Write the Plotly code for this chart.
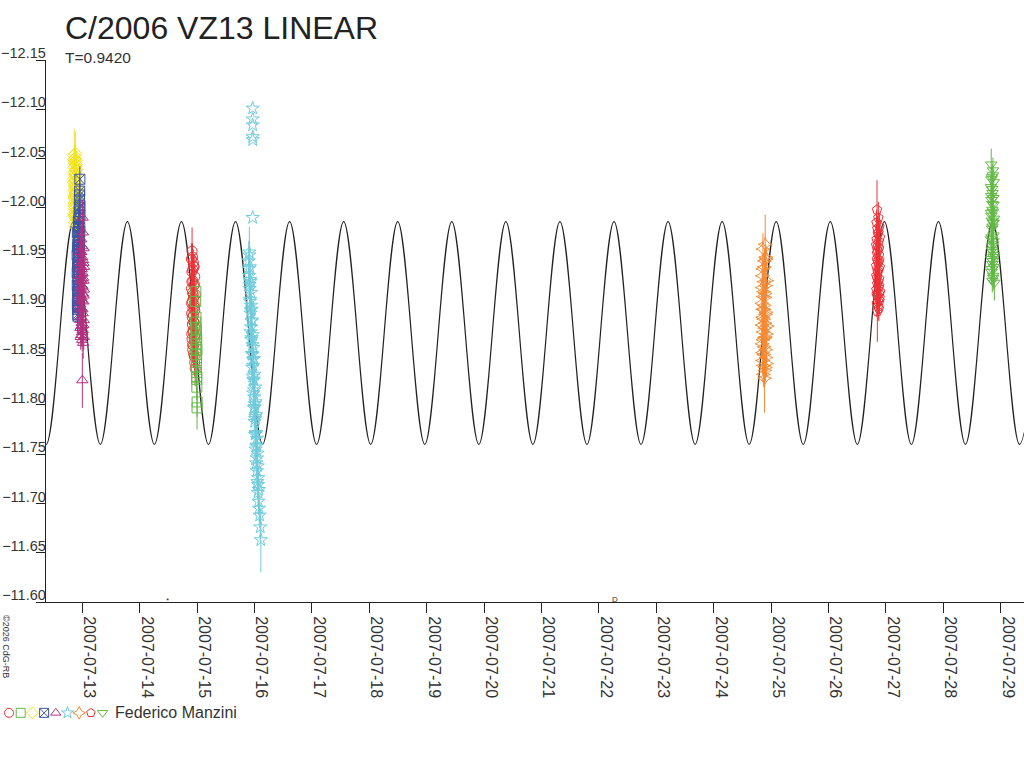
import pandas as pd
import plotly.graph_objects as go

base = pd.Timestamp("2007-07-13")

# model light curve: extrema (days after 2007-07-13, magnitude)
model_days = [-1.099, -0.628, -0.157, 0.314, 0.785, 1.256, 1.727, 2.198, 2.669, 3.140,
              3.611, 4.082, 4.553, 5.024, 5.495, 5.966, 6.437, 6.908, 7.379, 7.850,
              8.321, 8.792, 9.263, 9.734, 10.205, 10.676, 11.147, 11.618, 12.089, 12.560,
              13.031, 13.502, 13.973, 14.444, 14.915, 15.386, 15.857, 16.328, 16.799]
model_mag = [-11.986, -11.760, -11.986, -11.760, -11.986, -11.760, -11.986, -11.760, -11.986, -11.760,
             -11.986, -11.760, -11.986, -11.760, -11.986, -11.760, -11.986, -11.760, -11.986, -11.760,
             -11.986, -11.760, -11.986, -11.760, -11.986, -11.760, -11.986, -11.760, -11.986, -11.760,
             -11.986, -11.760, -11.986, -11.760, -11.986, -11.760, -11.986, -11.760, -11.986]

# observations (days after 2007-07-13, magnitude, error), one set per session
rci_d = [1.900, 1.903, 1.906, 1.909, 1.912, 1.915, 1.918, 1.921, 1.924, 1.927, 1.930, 1.933,
         1.936, 1.939, 1.942, 1.945, 1.948, 1.951, 1.954, 1.957, 1.960, 1.963, 1.966, 1.969,
         1.901, 1.904, 1.908, 1.911, 1.914, 1.917, 1.920, 1.923, 1.926, 1.929, 1.932, 1.935,
         1.938, 1.941, 1.944, 1.947, 1.950, 1.953, 1.956, 1.959]
rci_m = [-11.948, -11.903, -11.872, -11.925, -11.956, -11.889, -11.914, -11.861, -11.937, -11.898, -11.876, -11.945,
         -11.908, -11.852, -11.921, -11.884, -11.940, -11.866, -11.899, -11.843, -11.930, -11.878, -11.837, -11.912,
         -11.918, -11.893, -11.935, -11.867, -11.905, -11.882, -11.950, -11.856, -11.926, -11.874, -11.912, -11.891,
         -11.860, -11.941, -11.884, -11.902, -11.849, -11.922, -11.870, -11.896]
rci_e = [0.016, 0.012, 0.014, 0.013, 0.024, 0.012, 0.015, 0.013, 0.014, 0.012, 0.016, 0.013,
         0.012, 0.014, 0.015, 0.012, 0.013, 0.016, 0.012, 0.014, 0.013, 0.015, 0.018, 0.012,
         0.013, 0.012, 0.014, 0.012, 0.013, 0.012, 0.014, 0.013, 0.012, 0.013, 0.014, 0.012,
         0.013, 0.012, 0.014, 0.013, 0.012, 0.013, 0.014, 0.012]

gsq_d = [1.975, 1.977, 1.979, 1.981, 1.983, 1.985, 1.987, 1.989, 1.991, 1.993, 1.995, 1.997, 1.999, 2.000,
         1.976, 1.980, 1.984, 1.988, 1.992, 1.996, 1.978, 1.990]
gsq_m = [-11.905, -11.872, -11.851, -11.889, -11.862, -11.838, -11.878, -11.845, -11.826, -11.866, -11.818, -11.856, -11.797, -11.803,
         -11.884, -11.858, -11.876, -11.833, -11.851, -11.829, -11.915, -11.869]
gsq_e = [0.012, 0.013, 0.012, 0.014, 0.012, 0.013, 0.012, 0.013, 0.014, 0.012, 0.013, 0.012, 0.022, 0.015,
         0.012, 0.013, 0.012, 0.013, 0.012, 0.013, 0.012, 0.013]

yel_d = [-0.145, -0.142, -0.140, -0.138, -0.136, -0.134, -0.132, -0.131, -0.129, -0.127, -0.126, -0.124, -0.122, -0.121,
         -0.119, -0.118, -0.116, -0.114, -0.113, -0.111, -0.110, -0.108, -0.107, -0.105, -0.104, -0.102, -0.101, -0.100,
         -0.144, -0.141, -0.139, -0.137, -0.135, -0.133, -0.130, -0.128, -0.125, -0.123, -0.120, -0.117, -0.115, -0.112,
         -0.109, -0.106, -0.103, -0.101, -0.139, -0.121]
yel_m = [-12.041, -12.018, -12.053, -12.005, -12.030, -11.992, -12.047, -12.012, -12.036, -11.985, -12.024, -12.042, -12.001, -12.028,
         -11.981, -12.015, -12.038, -11.996, -12.021, -12.009, -12.044, -11.989, -12.032, -12.003, -12.019, -11.984, -12.011, -11.998,
         -12.026, -12.049, -11.994, -12.035, -12.010, -12.050, -12.022, -11.999, -12.045, -12.014, -12.033, -11.991, -12.027, -12.048,
         -12.006, -12.039, -11.993, -12.017, -12.002, -12.055]
yel_e = [0.014, 0.012, 0.027, 0.013, 0.015, 0.012, 0.016, 0.012, 0.014, 0.013, 0.012, 0.015, 0.012, 0.013,
         0.012, 0.014, 0.013, 0.012, 0.015, 0.012, 0.013, 0.012, 0.014, 0.012, 0.013, 0.016, 0.012, 0.013,
         0.013, 0.012, 0.014, 0.012, 0.013, 0.015, 0.012, 0.013, 0.012, 0.014, 0.013, 0.012, 0.014, 0.013,
         0.012, 0.013, 0.012, 0.014, 0.013, 0.022]

blu_d = [-0.090, -0.088, -0.086, -0.084, -0.083, -0.081, -0.079, -0.077, -0.076, -0.074, -0.072, -0.070, -0.069, -0.067, -0.065,
         -0.063, -0.062, -0.060, -0.058, -0.056, -0.055, -0.053, -0.051, -0.049, -0.048, -0.046, -0.044, -0.043, -0.041, -0.040,
         -0.089, -0.087, -0.085, -0.082, -0.080, -0.078, -0.075, -0.073, -0.071, -0.068, -0.066, -0.064, -0.061, -0.059, -0.057,
         -0.054, -0.052, -0.050, -0.047, -0.045]
blu_m = [-11.952, -11.921, -11.975, -11.897, -11.940, -11.906, -11.963, -11.930, -11.890, -11.948, -11.915, -11.986, -11.925, -11.958, -11.900,
         -11.937, -11.970, -11.911, -11.944, -11.996, -11.918, -11.955, -12.008, -11.933, -11.967, -12.017, -11.980, -12.029, -11.992, -12.002,
         -11.934, -11.903, -11.960, -11.915, -11.944, -11.892, -11.927, -11.972, -11.908, -11.950, -11.981, -11.921, -11.962, -11.899, -11.989,
         -11.941, -12.000, -11.958, -12.013, -11.976]
blu_e = [0.012, 0.013, 0.012, 0.022, 0.013, 0.012, 0.014, 0.012, 0.018, 0.013, 0.012, 0.014, 0.012, 0.013, 0.012,
         0.013, 0.012, 0.014, 0.012, 0.013, 0.012, 0.013, 0.014, 0.012, 0.013, 0.014, 0.012, 0.013, 0.012, 0.012,
         0.012, 0.013, 0.012, 0.014, 0.012, 0.013, 0.012, 0.013, 0.012, 0.014, 0.012, 0.013, 0.012, 0.013, 0.012,
         0.014, 0.012, 0.013, 0.012, 0.013]

mag_d = [-0.040, -0.037, -0.035, -0.032, -0.030, -0.027, -0.025, -0.022, -0.020, -0.017, -0.015, -0.012, -0.010, -0.007, -0.005,
         -0.002, 0.000, 0.002, 0.005, 0.007, 0.010, 0.012, 0.015, 0.017, 0.020, 0.022, 0.025, 0.027, 0.030, 0.000,
         -0.038, -0.034, -0.031, -0.028, -0.024, -0.021, -0.018, -0.014, -0.011, -0.008, -0.004, -0.001, 0.003, 0.006, 0.009,
         0.013, 0.016, 0.019, 0.023, 0.026]
mag_m = [-11.931, -11.902, -11.955, -11.878, -11.918, -11.944, -11.889, -11.927, -11.968, -11.871, -11.909, -11.938, -11.883, -11.921, -11.950,
         -11.866, -11.897, -11.934, -11.990, -11.876, -11.913, -11.947, -11.863, -11.905, -11.926, -11.959, -11.886, -11.917, -11.940, -11.825,
         -11.912, -11.886, -11.941, -11.869, -11.926, -11.898, -11.955, -11.880, -11.933, -11.906, -11.961, -11.874, -11.920, -11.893, -11.975,
         -11.929, -11.881, -11.944, -11.911, -11.869]
mag_e = [0.013, 0.012, 0.014, 0.012, 0.013, 0.012, 0.013, 0.012, 0.014, 0.012, 0.013, 0.012, 0.013, 0.012, 0.013,
         0.012, 0.013, 0.012, 0.018, 0.012, 0.013, 0.012, 0.016, 0.012, 0.013, 0.012, 0.013, 0.012, 0.013, 0.028,
         0.012, 0.013, 0.012, 0.013, 0.012, 0.013, 0.012, 0.013, 0.012, 0.013, 0.012, 0.013, 0.012, 0.013, 0.012,
         0.013, 0.012, 0.013, 0.012, 0.013]

cya_d = [2.900, 2.905, 2.910, 2.915, 2.920, 2.925, 2.930, 2.935, 2.940, 2.945, 2.950, 2.955, 2.960, 2.965,
         2.970, 2.975, 2.980, 2.985, 2.990, 2.995, 3.000, 3.005, 3.010, 3.015, 3.020, 3.025, 3.030, 3.035,
         3.040, 3.045, 3.050, 3.055, 3.060, 3.065, 3.070, 3.075, 3.080, 3.090, 3.100, 3.110,
         2.902, 2.908, 2.913, 2.918, 2.923, 2.928, 2.933, 2.938, 2.943, 2.948, 2.953, 2.958, 2.963, 2.968, 2.973,
         2.978, 2.983, 2.988, 2.993, 2.998, 3.003, 3.008, 3.013, 3.018, 3.023, 3.028, 3.033, 3.043, 3.053, 3.063,
         2.968, 2.968, 2.968, 2.968, 2.968, 2.968]
cya_m = [-11.946, -11.931, -11.952, -11.918, -11.905, -11.927, -11.893, -11.874, -11.901, -11.866, -11.885, -11.852, -11.838, -11.861,
         -11.829, -11.846, -11.812, -11.825, -11.797, -11.808, -11.783, -11.801, -11.770, -11.788, -11.755, -11.772, -11.741, -11.759,
         -11.733, -11.746, -11.722, -11.738, -11.711, -11.726, -11.702, -11.714, -11.695, -11.688, -11.676, -11.663,
         -11.938, -11.955, -11.922, -11.940, -11.907, -11.925, -11.896, -11.914, -11.879, -11.897, -11.868, -11.886, -11.851, -11.871, -11.840,
         -11.858, -11.826, -11.847, -11.815, -11.831, -11.798, -11.818, -11.786, -11.803, -11.771, -11.790, -11.758, -11.766, -11.751, -11.719,
         -12.101, -12.090, -12.084, -12.072, -12.069, -11.990]
cya_e = [0.020, 0.016, 0.029, 0.014, 0.012, 0.015, 0.013, 0.012, 0.014, 0.012, 0.013, 0.012, 0.014, 0.012,
         0.013, 0.012, 0.014, 0.012, 0.013, 0.012, 0.014, 0.012, 0.013, 0.012, 0.014, 0.012, 0.013, 0.012,
         0.014, 0.012, 0.013, 0.012, 0.014, 0.012, 0.013, 0.012, 0.014, 0.013, 0.015, 0.033,
         0.013, 0.012, 0.014, 0.012, 0.013, 0.012, 0.013, 0.012, 0.014, 0.012, 0.013, 0.012, 0.013, 0.012, 0.013,
         0.012, 0.014, 0.012, 0.013, 0.012, 0.013, 0.012, 0.014, 0.012, 0.013, 0.012, 0.013, 0.012, 0.013, 0.012,
         0.000, 0.000, 0.000, 0.000, 0.000, 0.000]

ora_d = [11.840, 11.844, 11.848, 11.851, 11.855, 11.858, 11.862, 11.865, 11.869, 11.872, 11.876, 11.879, 11.883,
         11.886, 11.890, 11.893, 11.897, 11.900, 11.904, 11.907, 11.911, 11.914, 11.918, 11.921, 11.925, 11.930,
         11.842, 11.846, 11.850, 11.853, 11.857, 11.860, 11.864, 11.867, 11.871, 11.874, 11.878, 11.881, 11.885,
         11.888, 11.892, 11.895, 11.899, 11.902, 11.906, 11.909]
ora_m = [-11.903, -11.862, -11.931, -11.845, -11.889, -11.958, -11.874, -11.831, -11.915, -11.851, -11.897, -11.940, -11.868,
         -11.827, -11.909, -11.883, -11.963, -11.838, -11.921, -11.856, -11.894, -11.948, -11.872, -11.842, -11.926, -11.880,
         -11.881, -11.919, -11.853, -11.897, -11.938, -11.866, -11.910, -11.840, -11.887, -11.925, -11.859, -11.901, -11.946,
         -11.878, -11.835, -11.913, -11.869, -11.892, -11.950, -11.848]
ora_e = [0.014, 0.013, 0.015, 0.014, 0.013, 0.016, 0.014, 0.013, 0.015, 0.014, 0.013, 0.015, 0.014,
         0.035, 0.013, 0.014, 0.030, 0.014, 0.013, 0.015, 0.014, 0.013, 0.015, 0.014, 0.013, 0.014,
         0.013, 0.014, 0.013, 0.014, 0.013, 0.014, 0.013, 0.014, 0.013, 0.014, 0.013, 0.014, 0.013,
         0.014, 0.013, 0.014, 0.013, 0.014, 0.013, 0.014]

rpe_d = [13.830, 13.833, 13.836, 13.839, 13.842, 13.845, 13.848, 13.851, 13.854, 13.857, 13.860, 13.863,
         13.866, 13.869, 13.872, 13.875, 13.878, 13.881, 13.884, 13.887, 13.890, 13.893, 13.896, 13.900,
         13.831, 13.834, 13.838, 13.841, 13.844, 13.847, 13.850, 13.853, 13.856, 13.859, 13.862, 13.865,
         13.868, 13.871, 13.874, 13.877, 13.880, 13.883, 13.886, 13.889]
rpe_m = [-11.962, -11.931, -11.985, -11.912, -11.948, -11.998, -11.923, -11.895, -11.957, -11.936, -11.974, -11.905,
         -11.944, -11.990, -11.919, -11.966, -11.898, -11.952, -11.928, -11.981, -11.909, -11.940, -11.970, -11.915,
         -11.941, -11.917, -11.968, -11.903, -11.954, -11.929, -11.979, -11.911, -11.946, -11.934, -11.961, -11.900,
         -11.925, -11.975, -11.938, -11.913, -11.959, -11.921, -11.947, -11.906]
rpe_e = [0.013, 0.014, 0.013, 0.014, 0.013, 0.030, 0.013, 0.031, 0.014, 0.013, 0.014, 0.013,
         0.014, 0.016, 0.013, 0.014, 0.013, 0.014, 0.013, 0.014, 0.013, 0.014, 0.013, 0.014,
         0.013, 0.014, 0.013, 0.014, 0.013, 0.014, 0.013, 0.014, 0.013, 0.014, 0.013, 0.014,
         0.013, 0.014, 0.013, 0.014, 0.013, 0.014, 0.013, 0.014]

gtr_d = [15.830, 15.833, 15.835, 15.838, 15.840, 15.843, 15.845, 15.848, 15.850, 15.853, 15.855, 15.858,
         15.860, 15.863, 15.865, 15.868, 15.870, 15.873, 15.875, 15.878, 15.880, 15.883, 15.886, 15.890,
         15.831, 15.834, 15.836, 15.839, 15.842, 15.844, 15.847, 15.849, 15.852, 15.854, 15.857, 15.859,
         15.862, 15.864, 15.867, 15.869, 15.872, 15.874, 15.877, 15.882]
gtr_m = [-12.021, -11.968, -12.044, -11.992, -11.935, -12.008, -11.957, -12.031, -11.979, -11.926, -11.998, -12.015,
         -11.946, -11.985, -12.038, -11.963, -11.931, -12.003, -11.972, -11.950, -12.026, -11.940, -11.989, -11.924,
         -11.995, -12.012, -11.948, -12.029, -11.970, -11.987, -11.938, -12.019, -11.961, -12.004, -11.943, -11.981,
         -12.033, -11.955, -11.996, -11.929, -12.010, -11.966, -11.985, -11.952]
gtr_e = [0.012, 0.013, 0.016, 0.012, 0.013, 0.012, 0.013, 0.012, 0.013, 0.012, 0.013, 0.012,
         0.013, 0.012, 0.013, 0.012, 0.013, 0.012, 0.013, 0.012, 0.013, 0.012, 0.013, 0.018,
         0.012, 0.013, 0.012, 0.013, 0.012, 0.013, 0.012, 0.013, 0.012, 0.013, 0.012, 0.013,
         0.012, 0.013, 0.012, 0.013, 0.012, 0.013, 0.012, 0.013]

# same order as the symbol strip at the bottom
sessions = [
    (rci_d, rci_m, rci_e, "circle-open", "#ed3237"),
    (gsq_d, gsq_m, gsq_e, "square-open", "#63b946"),
    (yel_d, yel_m, yel_e, "diamond-open", "#f2e31b"),
    (blu_d, blu_m, blu_e, "square-x-open", "#3b55a3"),
    (mag_d, mag_m, mag_e, "triangle-up-open", "#b2307f"),
    (cya_d, cya_m, cya_e, "star-open", "#6fcbdc"),
    (ora_d, ora_m, ora_e, "star-diamond-open", "#f58a35"),
    (rpe_d, rpe_m, rpe_e, "pentagon-open", "#ed3237"),
    (gtr_d, gtr_m, gtr_e, "triangle-down-open", "#63b946"),
]

observer = "Federico Manzini"


def to_dates(days):
    return base + pd.to_timedelta(days, unit="D")


fig = go.Figure()
fig.add_trace(go.Scatter(x=to_dates(model_days), y=model_mag, mode="lines",
                         line=dict(color="#222222", width=1.2, shape="spline", smoothing=1),
                         hoverinfo="skip"))
for d, m, e, sym, col in sessions:
    fig.add_trace(go.Scatter(
        x=to_dates(d), y=m, mode="markers",
        marker=dict(symbol=sym, size=10, color=col, line=dict(width=1, color=col)),
        error_y=dict(type="data", array=e, visible=True, color=col, thickness=1, width=0)))

# symbol strip (legend) on its own hidden axes
fig.add_trace(go.Scatter(
    x=list(range(len(sessions))), y=[0] * len(sessions), mode="markers",
    xaxis="x2", yaxis="y2",
    marker=dict(symbol=[s[3] for s in sessions], size=9, color=[s[4] for s in sessions],
                line=dict(width=1, color=[s[4] for s in sessions]))))

font = "Liberation Sans, Arial, sans-serif"

fig.update_layout(
    width=1024, height=768,
    margin=dict(l=0, r=0, t=0, b=0),
    paper_bgcolor="white", plot_bgcolor="white",
    showlegend=False, hovermode=False,
    font=dict(family=font, color="#222222"),
    xaxis=dict(
        domain=[45.7 / 1024, 1],
        range=[to_dates([-0.638])[0], to_dates([16.406])[0]],
        type="date", dtick=86400000, tick0="2007-07-13", tickformat="%Y-%m-%d",
        tickangle=90, ticks="outside", ticklen=10, tickcolor="#222222",
        ticklabelshift=7,
        tickfont=dict(size=16, color="#333333"),
        showline=True, linecolor="#222222", linewidth=1,
        showgrid=False, zeroline=False, automargin=False),
    yaxis=dict(
        domain=[1 - 602 / 768, 1 - 60 / 768],
        range=[-11.60, -12.15], dtick=0.05, tick0=-12.15, tickformat=".2f",
        ticks="outside", ticklen=9, tickcolor="#222222",
        ticklabelstandoff=-13, ticklabelshift=7,
        tickfont=dict(size=14.5, color="#333333"),
        showline=True, linecolor="#222222", linewidth=1,
        showgrid=False, zeroline=False, automargin=False),
    xaxis2=dict(domain=[0, 0.25], range=[-0.769, 21.11], visible=False, anchor="y2", fixedrange=True),
    yaxis2=dict(domain=[0, 0.1436], range=[-1, 1], visible=False, anchor="x2", fixedrange=True),
    annotations=[
        dict(text="C/2006 VZ13 LINEAR", xref="paper", yref="paper", x=63 / 1024, y=1 - 28 / 768,
             xanchor="left", yanchor="middle", showarrow=False, font=dict(size=32, color="#222222")),
        dict(text="T=0.9420", xref="paper", yref="paper", x=63 / 1024, y=1 - 57 / 768,
             xanchor="left", yanchor="middle", showarrow=False, font=dict(size=15.5, color="#333333")),
        dict(text=observer, xref="paper", yref="paper", x=113 / 1024, y=1 - 712 / 768,
             xanchor="left", yanchor="middle", showarrow=False, font=dict(size=16, color="#333333")),
        dict(text="©2026 CdG-RB", xref="paper", yref="paper", x=6 / 1024, y=1 - 646 / 768,
             xanchor="center", yanchor="middle", textangle=90, showarrow=False,
             font=dict(size=9, color="#333333")),
        dict(text="*", xref="x", yref="paper", x=to_dates([1.49])[0], y=1 - 607 / 768,
             showarrow=False, font=dict(size=8, color="#333333")),
        dict(text="D", xref="x", yref="paper", x=to_dates([9.28])[0], y=1 - 606 / 768,
             showarrow=False, font=dict(size=8, color="#333333")),
    ],
)

fig.write_html("out.html", config={"displayModeBar": False},
               post_script="document.body.style.margin='0px';")
